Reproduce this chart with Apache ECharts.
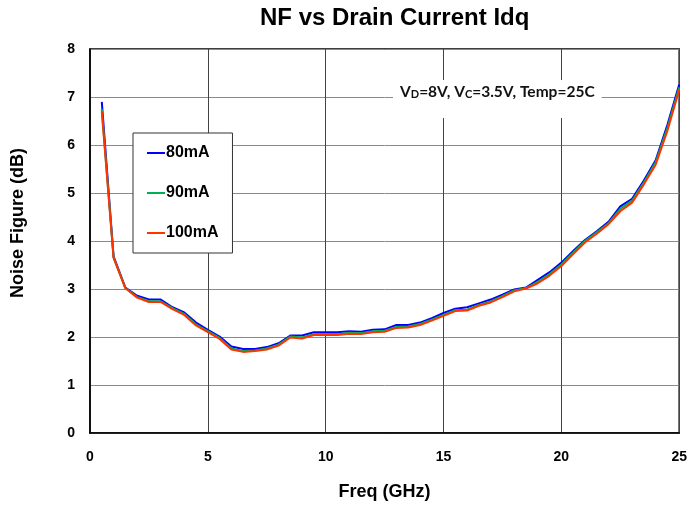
<!DOCTYPE html>
<html>
<head>
<meta charset="utf-8">
<script src="https://cdn.jsdelivr.net/npm/echarts@6/dist/echarts.min.js"></script>
<style>
  html, body { margin: 0; padding: 0; background: #fff; }
  #chart { width: 690px; height: 506px; }
</style>
</head>
<body>
<div id="chart"></div>
<script>
// Frequency points (GHz)
const freq = [0.5, 1.0, 1.5, 2.0, 2.5, 3.0, 3.5, 4.0, 4.5, 5.0,
  5.5, 6.0, 6.5, 7.0, 7.5, 8.0, 8.5, 9.0, 9.5, 10.0,
  10.5, 11.0, 11.5, 12.0, 12.5, 13.0, 13.5, 14.0, 14.5, 15.0,
  15.5, 16.0, 16.5, 17.0, 17.5, 18.0, 18.5, 19.0, 19.5, 20.0,
  20.5, 21.0, 21.5, 22.0, 22.5, 23.0, 23.5, 24.0, 24.5, 25.0];

// Noise figure (dB) per drain current
const nf80mA = [6.90, 3.68, 3.03, 2.86, 2.78, 2.78, 2.62, 2.51, 2.30, 2.15,
  2.01, 1.80, 1.75, 1.75, 1.79, 1.87, 2.03, 2.03, 2.10, 2.10,
  2.10, 2.12, 2.11, 2.15, 2.16, 2.25, 2.25, 2.30, 2.39, 2.50,
  2.59, 2.62, 2.70, 2.78, 2.88, 2.99, 3.03, 3.19, 3.35, 3.55,
  3.79, 4.02, 4.20, 4.40, 4.72, 4.88, 5.26, 5.68, 6.42, 7.26];
const nf90mA = [6.75, 3.66, 3.02, 2.83, 2.75, 2.74, 2.60, 2.48, 2.26, 2.12,
  1.98, 1.76, 1.71, 1.72, 1.76, 1.84, 2.01, 1.99, 2.06, 2.06,
  2.06, 2.09, 2.08, 2.12, 2.13, 2.21, 2.22, 2.27, 2.36, 2.46,
  2.56, 2.57, 2.67, 2.74, 2.85, 2.97, 3.02, 3.15, 3.31, 3.51,
  3.76, 4.00, 4.18, 4.37, 4.67, 4.84, 5.22, 5.64, 6.36, 7.20];
const nf100mA = [6.70, 3.65, 3.02, 2.82, 2.73, 2.73, 2.58, 2.46, 2.24, 2.10,
  1.96, 1.74, 1.69, 1.71, 1.74, 1.82, 1.99, 1.97, 2.04, 2.04,
  2.04, 2.07, 2.06, 2.10, 2.11, 2.19, 2.20, 2.25, 2.34, 2.44,
  2.54, 2.55, 2.65, 2.72, 2.83, 2.95, 3.01, 3.12, 3.28, 3.48,
  3.73, 3.97, 4.15, 4.35, 4.62, 4.80, 5.18, 5.59, 6.30, 7.15];

const seriesNames = ['80mA', '90mA', '100mA'];
const seriesColors = ['#0000FF', '#00B050', '#FF3300'];
const seriesValues = [nf80mA, nf90mA, nf100mA];

const xTicks = [0, 5, 10, 15, 20, 25];
const yTicks = [0, 1, 2, 3, 4, 5, 6, 7, 8];

const bold = { fontFamily: 'Arial, "Liberation Sans", sans-serif', fontWeight: 'bold', color: '#000' };

const chart = echarts.init(document.getElementById('chart'), null, { renderer: 'canvas' });

chart.setOption({
  backgroundColor: '#fff',
  animation: false,
  title: {
    text: 'NF vs Drain Current Idq',
    left: 260,
    top: 6,
    padding: 0,
    textStyle: Object.assign({}, bold, { fontSize: 24 })
  },
  grid: {
    left: 90, right: 10, top: 49, bottom: 72,
    show: true,
    borderColor: '#000',
    borderWidth: 1.5,
    backgroundColor: 'transparent'
  },
  legend: {
    orient: 'vertical',
    left: 133,
    top: 133,
    padding: [12, 14, 12, 14],
    itemGap: 24,
    itemWidth: 18,
    itemHeight: 2,
    icon: 'rect',
    backgroundColor: '#fff',
    borderColor: '#333',
    borderWidth: 1,
    textStyle: Object.assign({}, bold, { fontSize: 16, padding: [0, 0, 0, -4] }),
    data: seriesNames
  },
  xAxis: {
    type: 'value',
    min: xTicks[0],
    max: xTicks[xTicks.length - 1],
    interval: xTicks[1] - xTicks[0],
    name: 'Freq (GHz)',
    nameLocation: 'middle',
    nameGap: 50,
    nameTextStyle: Object.assign({}, bold, { fontSize: 18 }),
    axisLine: { show: true, lineStyle: { color: '#000', width: 1.5 } },
    axisTick: { show: false },
    axisLabel: Object.assign({}, bold, { fontSize: 14, margin: 17 }),
    splitLine: { show: true, lineStyle: { color: '#444', width: 1 } }
  },
  yAxis: {
    type: 'value',
    min: yTicks[0],
    max: yTicks[yTicks.length - 1],
    interval: yTicks[1] - yTicks[0],
    name: 'Noise Figure (dB)',
    nameLocation: 'middle',
    nameGap: 63,
    nameTextStyle: Object.assign({}, bold, { fontSize: 18, padding: [0, 0, 0, 36] }),
    axisLine: { show: true, lineStyle: { color: '#000', width: 1.5 } },
    axisTick: { show: false },
    axisLabel: Object.assign({}, bold, { fontSize: 14, margin: 15 }),
    splitLine: { show: true, lineStyle: { color: '#8a8a8a', width: 1 } }
  },
  graphic: [{
    type: 'text',
    left: 393,
    top: 80,
    z: 50,
    style: {
      text: 'V{s|D}=8V, V{s|C}=3.5V, Temp=25C',
      font: 'bold 15.5px Lato, "Open Sans", sans-serif',
      fill: '#111',
      backgroundColor: '#fff',
      padding: [4, 7, 18, 7],
      rich: {
        s: { font: 'bold 11px Lato, "Open Sans", sans-serif', fill: '#111', verticalAlign: 'bottom', padding: [4, 0, 0, 0] }
      }
    }
  }],
  series: seriesNames.map((name, i) => ({
    name: name,
    type: 'line',
    symbol: 'none',
    z: 10 + i,
    color: seriesColors[i],
    lineStyle: { width: 2, color: seriesColors[i] },
    data: freq.map((f, k) => [f, seriesValues[i][k]])
  }))
});
</script>
</body>
</html>
